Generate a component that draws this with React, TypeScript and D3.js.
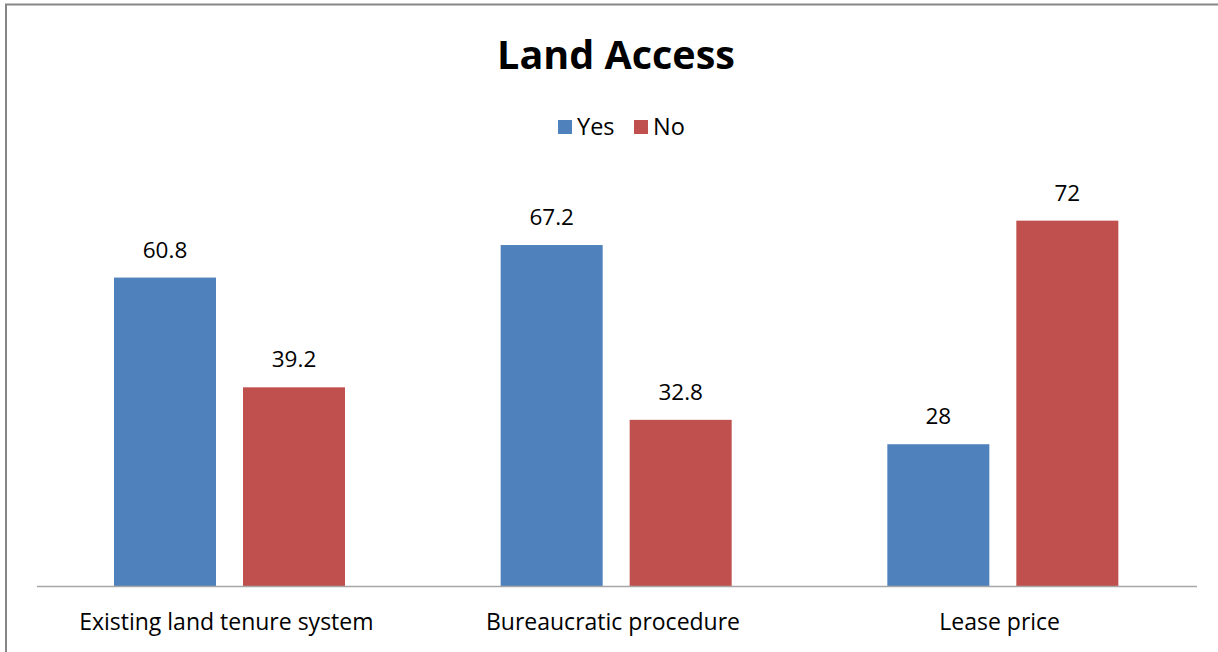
import React from "react";
import * as d3 from "d3";

const categories = ["Existing land tenure system", "Bureaucratic procedure", "Lease price"];
const seriesNames = ["Yes", "No"];
const yesValues = [60.8, 67.2, 28];
const noValues = [39.2, 32.8, 72];
const colors = ["#4F81BD", "#C0504D"];
const title = "Land Access";

const W = 1218;
const H = 652;
const FONT = "'Open Sans', Lato, sans-serif";

export default function App() {
  const left = 37;
  const right = 1197;
  const baseY = 586.5;
  const topY = 180;

  const x0 = d3.scaleBand<string>().domain(categories).range([left, right]).paddingInner(0).paddingOuter(0);
  const x1 = d3.scaleBand<string>().domain(seriesNames).range([77, 308]).paddingInner(27 / 129);
  const y = d3.scaleLinear().domain([0, 80]).range([baseY, topY]);

  const series = [yesValues, noValues];

  return (
    <svg width={W} height={H} style={{ position: "absolute", left: 0, top: 0, background: "#fff" }} fontFamily={FONT}>
      <rect x={6} y={4.5} width={W + 20} height={H + 20} fill="#fff" stroke="#868686" strokeWidth={2} />
      <text x={616} y={69} textAnchor="middle" fontSize={39.5} fontWeight="bold" fill="#000">{title}</text>
      {seriesNames.map((s, i) => {
        const lx = i === 0 ? 558 : 634;
        return (
          <g key={s}>
            <rect x={lx} y={120} width={14} height={14} fill={colors[i]} />
            <text x={lx + 19} y={135} fontSize={23.5} fill="#000">{s}</text>
          </g>
        );
      })}
      {categories.map((c, ci) => (
        <g key={c} transform={`translate(${x0(c)},0)`}>
          {seriesNames.map((s, si) => {
            const v = series[si][ci];
            const bx = x1(s)!;
            const bw = x1.bandwidth();
            return (
              <g key={s}>
                <rect x={bx} y={y(v)} width={bw} height={baseY - y(v)} fill={colors[si]} />
                <text x={bx + bw / 2} y={y(v) - 20} textAnchor="middle" fontSize={22.5} fill="#000">{v}</text>
              </g>
            );
          })}
          <text x={x0.bandwidth() / 2 - 4} y={629.5} textAnchor="middle" fontSize={23} fill="#000">{c}</text>
        </g>
      ))}
      <line x1={left} x2={right} y1={baseY} y2={baseY} stroke="#A6A6A6" strokeWidth={1.5} />
    </svg>
  );
}
